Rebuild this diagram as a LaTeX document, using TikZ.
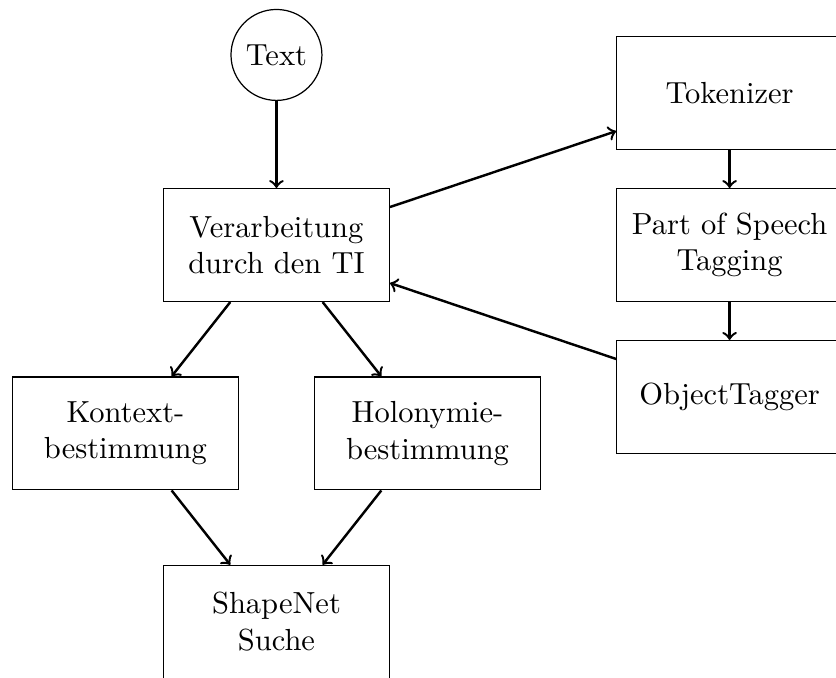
\documentclass[tikz,border=0pt]{standalone}
\usepackage{tikz}
\usetikzlibrary{arrows,positioning,shapes}
\tikzstyle{block} = [draw, rectangle, align=center,
    minimum height=1.3cm, minimum width=2.6cm]
\tikzstyle{source} = [draw, circle]
\tikzstyle{flow} = [->, thick]
\begin{document}
\begin{tikzpicture}[auto, node distance=2.17cm, >=to]
    \useasboundingbox (-3.185,-4.977) rectangle (6.446,2.823);
    % Eingabe und zentrale Verarbeitung
    \node [block] (ti) {Verarbeitung\\durch den TI};
    \node [source, above of=ti, node distance=2.19cm] (text) {Text};
    % Vorverarbeitung auf der rechten Seite
    \node [block, right of=ti, node distance=5.22cm] (pos) {Part of Speech\\Tagging};
    \node [block, above of=pos, node distance=1.75cm] (tok) {Tokenizer};
    \node [block, below of=pos, node distance=1.75cm] (obj) {ObjectTagger};
    % Bestimmung und Suche
    \node [block, below of=ti, xshift=-1.74cm] (kontext) {Kontext-\\bestimmung};
    \node [block, below of=ti, xshift=1.74cm] (holo) {Holonymie-\\bestimmung};
    \node [block, below of=ti, node distance=4.34cm] (shapenet) {ShapeNet\\Suche};
    % Verbindungen
    \draw [flow] (text) -- (ti);
    \draw [flow] (ti) -- (tok);
    \draw [flow] (tok) -- (pos);
    \draw [flow] (pos) -- (obj);
    \draw [flow] (obj) -- (ti);
    \draw [flow] (ti.231) -- (kontext.51);
    \draw [flow] (ti.309) -- (holo.129);
    \draw [flow] (kontext.309) -- (shapenet.129);
    \draw [flow] (holo.231) -- (shapenet.51);
\end{tikzpicture}
\end{document}
